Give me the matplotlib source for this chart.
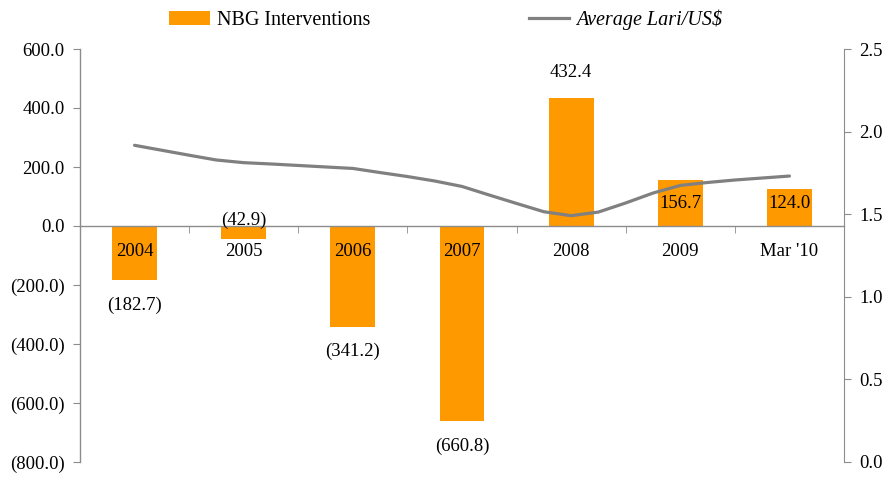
import matplotlib
matplotlib.use("Agg")
import matplotlib.pyplot as plt
from matplotlib.ticker import FuncFormatter, FixedLocator
from matplotlib.patches import Patch
from matplotlib.lines import Line2D

# data
categories = ["2004", "2005", "2006", "2007", "2008", "2009", "Mar '10"]
interventions = [-182.7, -42.9, -341.2, -660.8, 432.4, 156.7, 124.0]

# average Lari/US$ sampled each quarter from 2004 to Mar '10 (in years since 2004)
lari_time = [0.0, 0.25, 0.5, 0.75, 1.0, 1.25, 1.5, 1.75, 2.0, 2.25, 2.5, 2.75, 3.0,
             3.25, 3.5, 3.75, 4.0, 4.25, 4.5, 4.75, 5.0, 5.25, 5.5, 5.75, 6.0]
lari_rate = [1.917, 1.887, 1.857, 1.828, 1.812, 1.804, 1.795, 1.786, 1.777, 1.752,
             1.728, 1.701, 1.668, 1.616, 1.565, 1.515, 1.491, 1.513, 1.568, 1.628,
             1.674, 1.692, 1.707, 1.719, 1.731]

# where each data label goes
label_where = ["end", "zero", "end", "end", "end", "base", "base"]

ORANGE = "#FF9900"
GREY = "#808080"
AXGREY = "#8C8C8C"
FONT = "Liberation Serif"
FS = 13.5

plt.rcParams["font.family"] = [FONT, "DejaVu Serif"]

fig = plt.figure(figsize=(8.87, 4.78), dpi=100)
ax = fig.add_axes([80 / 887, 1 - 462 / 478, (844 - 80) / 887, (462 - 49) / 478])
ax2 = ax.twinx()

x = list(range(len(categories)))
ax.bar(x, interventions, width=0.41, color=ORANGE, zorder=1)

ax.set_xlim(-0.5, len(categories) - 0.5)
ax.set_ylim(-800, 600)
ax.set_yticks(range(-800, 601, 200))
ax.yaxis.set_major_formatter(FuncFormatter(
    lambda v, p: f"({abs(v):.1f})" if v < 0 else f"{v:.1f}"))

for s in ["top", "right"]:
    ax.spines[s].set_visible(False)
ax.spines["bottom"].set_position(("data", 0))
for s in ["left", "bottom"]:
    ax.spines[s].set_color(AXGREY)
    ax.spines[s].set_linewidth(1.0)

ax.set_xticks(x)
ax.set_xticklabels(categories)
ax.xaxis.set_minor_locator(FixedLocator([i + 0.5 for i in x[:-1]]))
ax.tick_params(axis="x", which="major", length=0, pad=12, labelsize=FS)
ax.tick_params(axis="x", which="minor", length=5, direction="out", color=AXGREY)
ax.tick_params(axis="y", length=5, direction="out", color=AXGREY, labelsize=FS, pad=6)

# data labels
for i, v in enumerate(interventions):
    txt = f"({abs(v):.1f})" if v < 0 else f"{v:.1f}"
    mode = label_where[i]
    if mode == "end":
        off = 19 if v > 0 else -18
        ax.annotate(txt, (i, v), xytext=(0, off), textcoords="offset points",
                    ha="center", va="center", fontsize=FS)
    elif mode == "zero":
        ax.annotate(txt, (i, 0), xytext=(0, 4), textcoords="offset points",
                    ha="center", va="center", fontsize=FS)
    else:
        ax.annotate(txt, (i, 0), xytext=(0, 16), textcoords="offset points",
                    ha="center", va="center", fontsize=FS)

# exchange rate line on the right axis
ax2.plot(lari_time, lari_rate, color=GREY, lw=2.3, solid_capstyle="round", zorder=3)
ax2.set_ylim(0, 2.5)
ax2.set_yticks([0, 0.5, 1.0, 1.5, 2.0, 2.5])
ax2.yaxis.set_major_formatter(FuncFormatter(lambda v, p: f"{v:.1f}"))
for s in ["top", "left", "bottom"]:
    ax2.spines[s].set_visible(False)
ax2.spines["right"].set_color(AXGREY)
ax2.tick_params(axis="y", length=5, direction="out", color=AXGREY, labelsize=FS, pad=6)

handles = [Patch(facecolor=ORANGE, edgecolor="none"),
           Line2D([0], [0], color=GREY, lw=2.3)]
leg = fig.legend(handles, ["NBG Interventions", r"Average Lari/US\$"],
                 loc="center", bbox_to_anchor=(446 / 887, 1 - 20 / 478),
                 ncol=2, frameon=False, fontsize=14.5, handlelength=2.0,
                 handletextpad=0.35, columnspacing=7.9, borderpad=0)
leg.get_texts()[1].set_fontstyle("italic")

fig.savefig("out.png", dpi=100)
